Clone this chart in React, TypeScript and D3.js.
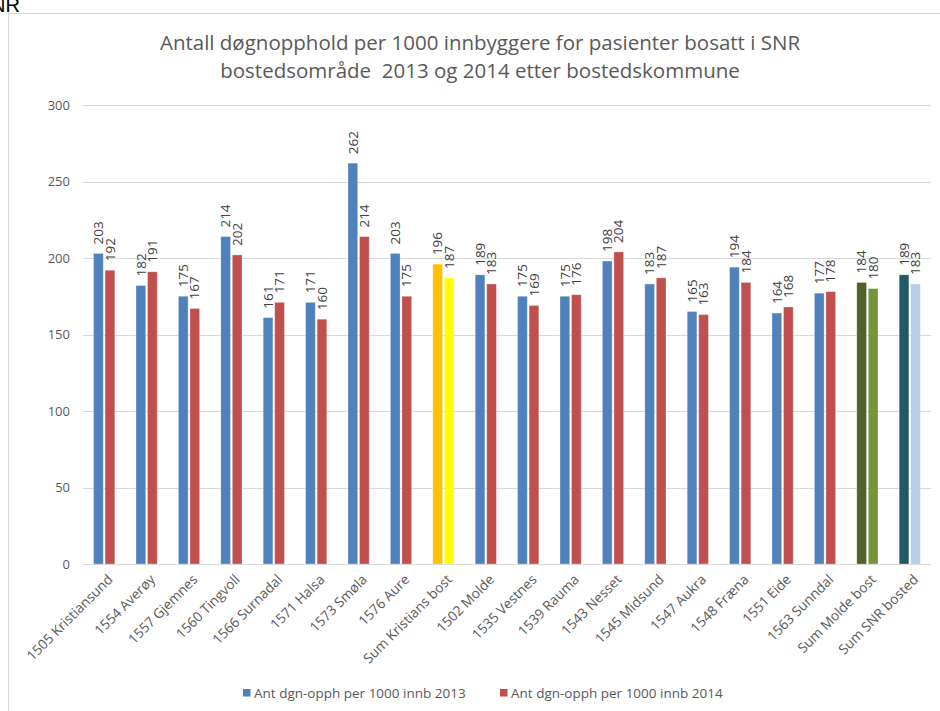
import React from "react";
import * as d3 from "d3";

const categories = [
  "1505 Kristiansund", "1554 Averøy", "1557 Gjemnes", "1560 Tingvoll", "1566 Surnadal",
  "1571 Halsa", "1573 Smøla", "1576 Aure", "Sum Kristians bost", "1502 Molde",
  "1535 Vestnes", "1539 Rauma", "1543 Nesset", "1545 Midsund", "1547 Aukra",
  "1548 Fræna", "1551 Eide", "1563 Sunndal", "Sum Molde bost", "Sum SNR bosted",
];
const values2013 = [203, 182, 175, 214, 161, 171, 262, 203, 196, 189, 175, 175, 198, 183, 165, 194, 164, 177, 184, 189];
const values2014 = [192, 191, 167, 202, 171, 160, 214, 175, 187, 183, 169, 176, 204, 187, 163, 184, 168, 178, 180, 183];
const seriesNames = ["Ant dgn-opph per 1000 innb 2013", "Ant dgn-opph per 1000 innb 2014"];
const yTicks = [0, 50, 100, 150, 200, 250, 300];
const titleLines = [
  "Antall døgnopphold per 1000 innbyggere for pasienter bosatt i SNR",
  "bostedsområde  2013 og 2014 etter bostedskommune",
];

const BLUE = "#4F81BD";
const RED = "#C0504D";
// Summary groups get their own colour pair
const specialColors: Record<string, [string, string]> = {
  "Sum Kristians bost": ["#FFC000", "#FFFF00"],
  "Sum Molde bost": ["#4F6228", "#77933C"],
  "Sum SNR bosted": ["#215967", "#B9CDE5"],
};

const FONT = "'Open Sans', 'Noto Sans', sans-serif";

export default function App() {
  const W = 940, H = 711;
  const left = 83, right = 931, top = 105, bottom = 564;

  const x = d3.scaleBand<string>().domain(categories).range([left, right]).paddingInner(0).paddingOuter(0);
  const xs = d3.scaleBand<string>().domain(["2013", "2014"]).range([-10.6, 10.6]).paddingInner(0.16);
  const y = d3.scaleLinear().domain([0, 300]).range([bottom, top]);

  const series = [values2013, values2014];
  const keys = ["2013", "2014"];

  return (
    <svg width={W} height={H} style={{ position: "absolute", left: 0, top: 0, background: "#fff" }}>
      <text x={20} y={12} textAnchor="end" fontFamily="'Liberation Sans Narrow', 'Liberation Sans', Arial, sans-serif" fontSize={20} fill="#000">SNR</text>
      <rect x={8.5} y={13.5} width={1000} height={1000} fill="none" stroke="#D9D9D9" strokeWidth={1} />

      {titleLines.map((t, i) => (
        <text key={i} x={480} y={50 + i * 28} textAnchor="middle" fontFamily={FONT} fontSize={20.5} fill="#595959" style={{ whiteSpace: "pre" }}>{t}</text>
      ))}

      {yTicks.map((t) => (
        <g key={t}>
          <line x1={left} x2={right} y1={Math.round(y(t)) + 0.5} y2={Math.round(y(t)) + 0.5} stroke="#D9D9D9" strokeWidth={1} />
          <text x={70} y={y(t)} dy="0.35em" textAnchor="end" fontFamily={FONT} fontSize={13} fill="#595959">{t}</text>
        </g>
      ))}

      {categories.map((c, i) => {
        const cx = (x(c) as number) + x.bandwidth() / 2;
        return (
          <g key={c}>
            {series.map((s, j) => {
              const colors = specialColors[c] ?? [BLUE, RED];
              const bx = cx + (xs(keys[j]) as number);
              const bw = xs.bandwidth();
              const v = s[i];
              return (
                <g key={j}>
                  <rect x={bx} y={y(v)} width={bw} height={y(0) - y(v)} fill={colors[j]} stroke="#ffffff" strokeOpacity={0.35} strokeWidth={0.8} />
                  <text
                    transform={`translate(${bx + bw / 2},${y(v) - 9}) rotate(-90)`}
                    dy="0.35em"
                    textAnchor="start"
                    fontFamily={FONT}
                    fontSize={13.5}
                    fill="#404040"
                  >{v}</text>
                </g>
              );
            })}
            <text
              transform={`translate(${cx + 6},${bottom + 13}) rotate(-45)`}
              dy="0.35em"
              textAnchor="end"
              fontFamily={FONT}
              fontSize={13.7}
              fill="#595959"
            >{c}</text>
          </g>
        );
      })}

      <line x1={left} x2={right} y1={bottom + 0.5} y2={bottom + 0.5} stroke="#D9D9D9" strokeWidth={1} />

      {seriesNames.map((n, i) => {
        const lx = i === 0 ? 243 : 500;
        return (
          <g key={n}>
            <rect x={lx} y={689} width={7.5} height={7.5} fill={i === 0 ? BLUE : RED} />
            <text x={lx + 11} y={693} dy="0.35em" fontFamily={FONT} fontSize={13.5} fill="#595959">{n}</text>
          </g>
        );
      })}
    </svg>
  );
}
